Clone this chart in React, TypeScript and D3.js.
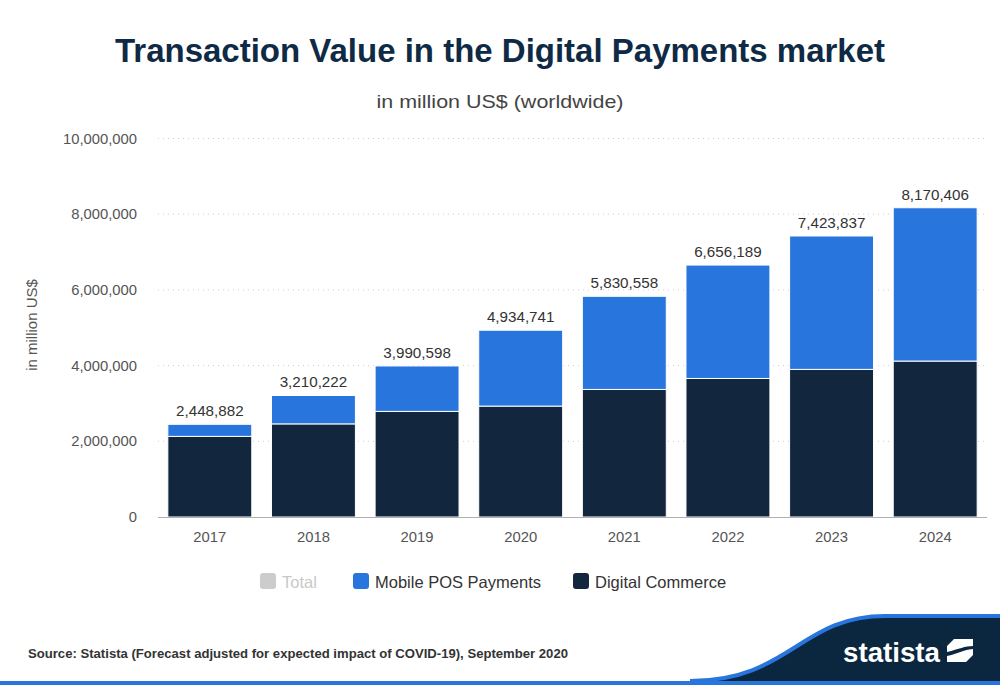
import React from "react";
import * as d3 from "d3";

const years = ["2017", "2018", "2019", "2020", "2021", "2022", "2023", "2024"];
const totals = [2448882, 3210222, 3990598, 4934741, 5830558, 6656189, 7423837, 8170406];
const digitalCommerce = [2130000, 2460000, 2790000, 2930000, 3370000, 3660000, 3900000, 4120000];
const mobilePOS = [318882, 750222, 1200598, 2004741, 2460558, 2996189, 3523837, 4050406];
const yTicks = [0, 2000000, 4000000, 6000000, 8000000, 10000000];
const legendItems = [
  { label: "Total", color: "#cccccc", text: "#c8c8c8" },
  { label: "Mobile POS Payments", color: "#2876dd", text: "#333333" },
  { label: "Digital Commerce", color: "#12263d", text: "#333333" },
];

const W = 1000;
const H = 685;
const FONT = "'Liberation Sans', Arial, Helvetica, sans-serif";

export default function App() {
  const x = d3.scaleBand<string>().domain(years).range([158, 987]).paddingInner(0.19).paddingOuter(0.095);
  const y = d3.scaleLinear().domain([0, 10000000]).range([517, 138.5]);
  const fmt = d3.format(",");

  const stackData = years.map((yr, i) => ({ year: yr, dc: digitalCommerce[i], mp: mobilePOS[i] }));
  const series = d3.stack<any>().keys(["dc", "mp"])(stackData);
  const colors: Record<string, string> = { dc: "#12263d", mp: "#2876dd" };

  const legendX = [260, 353, 573];

  return (
    <svg width={W} height={H} style={{ position: "absolute", left: 0, top: 0, background: "#fff" }}>
      <rect x={0} y={0} width={W} height={H} fill="#fff" />
      <text x={500} y={62} textAnchor="middle" fontFamily={FONT} fontWeight="bold" fontSize={33}
        fill="#0f2a45" textLength={770} lengthAdjust="spacingAndGlyphs">
        Transaction Value in the Digital Payments market
      </text>
      <text x={500} y={108} textAnchor="middle" fontFamily={FONT} fontSize={19} fill="#444"
        textLength={247} lengthAdjust="spacingAndGlyphs">
        in million US$ (worldwide)
      </text>

      {/* grid */}
      {yTicks.filter((t) => t > 0).map((t) => (
        <line key={t} x1={158} x2={987} y1={y(t)} y2={y(t)} stroke="#cfcfcf" strokeWidth={1} strokeDasharray="1,4" />
      ))}
      {yTicks.map((t) => (
        <text key={"l" + t} x={137} y={y(t) + 5} textAnchor="end" fontFamily={FONT} fontSize={14.8} fill="#555">
          {fmt(t)}
        </text>
      ))}
      <text transform={`translate(37,325) rotate(-90)`} textAnchor="middle" fontFamily={FONT} fontSize={15} fill="#555">
        in million US$
      </text>

      {/* bars */}
      {series.map((s) => (
        <g key={s.key}>
          {s.map((d: any, i: number) => (
            <rect key={i} x={x(years[i])} width={x.bandwidth()} y={y(d[1])} height={y(d[0]) - y(d[1])}
              fill={colors[s.key]} stroke="#fff" strokeWidth={1} />
          ))}
        </g>
      ))}
      <line x1={158} x2={987} y1={517.5} y2={517.5} stroke="#b0b0b0" strokeWidth={1} />

      {/* totals */}
      {years.map((yr, i) => (
        <text key={yr} x={(x(yr) as number) + x.bandwidth() / 2} y={y(totals[i]) - 8} textAnchor="middle"
          fontFamily={FONT} fontSize={15.2} fill="#333">
          {fmt(totals[i])}
        </text>
      ))}
      {years.map((yr) => (
        <text key={"x" + yr} x={(x(yr) as number) + x.bandwidth() / 2} y={542} textAnchor="middle"
          fontFamily={FONT} fontSize={14.8} fill="#555">
          {yr}
        </text>
      ))}

      {/* legend */}
      {legendItems.map((it, i) => (
        <g key={it.label}>
          <rect x={legendX[i]} y={573} width={16} height={16} rx={3} fill={it.color} />
          <text x={legendX[i] + 22} y={588} fontFamily={FONT} fontSize={16.5} fill={it.text}>{it.label}</text>
        </g>
      ))}

      {/* footer */}
      <text x={28} y={658} fontFamily={FONT} fontSize={12.5} fontWeight="bold" fill="#333"
        textLength={540} lengthAdjust="spacingAndGlyphs">
        Source: Statista (Forecast adjusted for expected impact of COVID-19), September 2020
      </text>
      <path d="M0,681 L690,681 C790,681 800,616 885,616 L1000,616 L1000,685 L0,685 Z" fill="#0b2740" />
      <path d="M690,681 C790,681 800,616 885,616 L1000,616" fill="none" stroke="#2876dd" strokeWidth={4} />
      <rect x={0} y={681} width={1000} height={4} fill="#2876dd" />
      <text x={843} y={662} fontFamily={FONT} fontWeight="bold" fontSize={28} fill="#fff"
        textLength={97} lengthAdjust="spacingAndGlyphs">statista</text>
      <path d="M954,639 L973,639 L973,646 C965,646 959,649 947,652 L947,646 Z" fill="#fff" />
      <path d="M947,656 C957,654 962,650 973,649 L973,655 L966,662 L947,662 Z" fill="#fff" />
    </svg>
  );
}
